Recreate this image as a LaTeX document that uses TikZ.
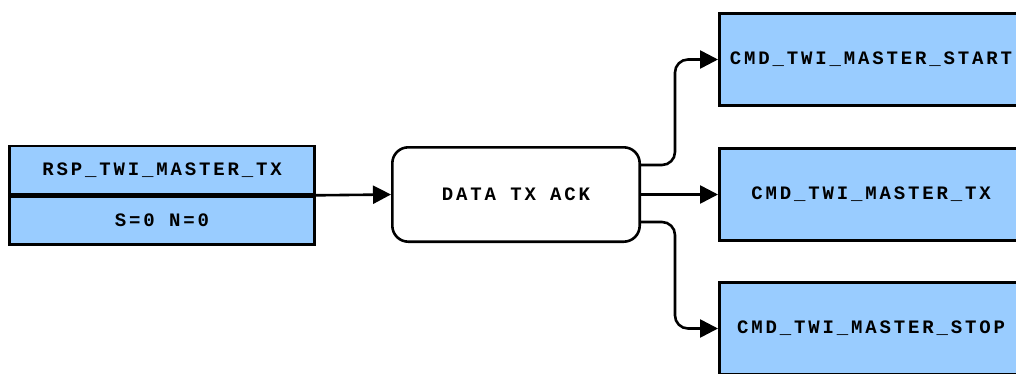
\documentclass[tikz,border=0pt]{standalone}
\usepackage{fontspec}
\setmonofont[LetterSpace=15]{Liberation Mono}
\usetikzlibrary{arrows.meta}
\definecolor{boxblue}{HTML}{99CCFF}
\tikzset{
  msg/.style={draw=black, line width=2.6pt, fill=boxblue, inner sep=0pt,
    font=\ttfamily\bfseries\fontsize{19}{22}\selectfont},
  state/.style={draw=black, line width=2.6pt, fill=white, rounded corners=16pt,
    inner sep=0pt, font=\ttfamily\bfseries\fontsize{19}{22}\selectfont},
  flow/.style={line width=2.6pt, rounded corners=13pt,
    -{Triangle[length=18pt,width=18pt]}},
}
\begin{document}
\begin{tikzpicture}[x=1pt,y=1pt]
\clip (0,0) rectangle (1016,373);
% source message with its parameter row
\node[msg, minimum width=305.4pt, minimum height=48pt] (head) at (162,203) {RSP\_TWI\_MASTER\_TX};
\node[msg, minimum width=305.4pt, minimum height=48pt, anchor=north] (body) at (head.south) {S=0 N=0};
\draw[line width=2.6pt] (head.south west) -- (head.south east);
% state
\node[state, minimum width=247.4pt, minimum height=94.4pt] (st) at (516,178.5) {DATA TX ACK};
% resulting commands
\node[msg, minimum width=303.4pt, minimum height=92.4pt] (start) at (871,313.5) {CMD\_TWI\_MASTER\_START};
\node[msg, minimum width=303.4pt, minimum height=92.4pt] (tx) at (871,178.5) {CMD\_TWI\_MASTER\_TX};
\node[msg, minimum width=303.4pt, minimum height=92.4pt] (stop) at (871,44.5) {CMD\_TWI\_MASTER\_STOP};
% transitions
\coordinate (ja) at (675,208);
\coordinate (jb) at (675,151);
\draw[flow] (head.south east) -- (st.west);
\draw[flow] ([yshift=29.5pt]st.east) -- (ja) |- (start.west);
\draw[flow] (st.east) -- (tx.west);
\draw[flow] ([yshift=-27.5pt]st.east) -- (jb) |- (stop.west);
\end{tikzpicture}
\end{document}
